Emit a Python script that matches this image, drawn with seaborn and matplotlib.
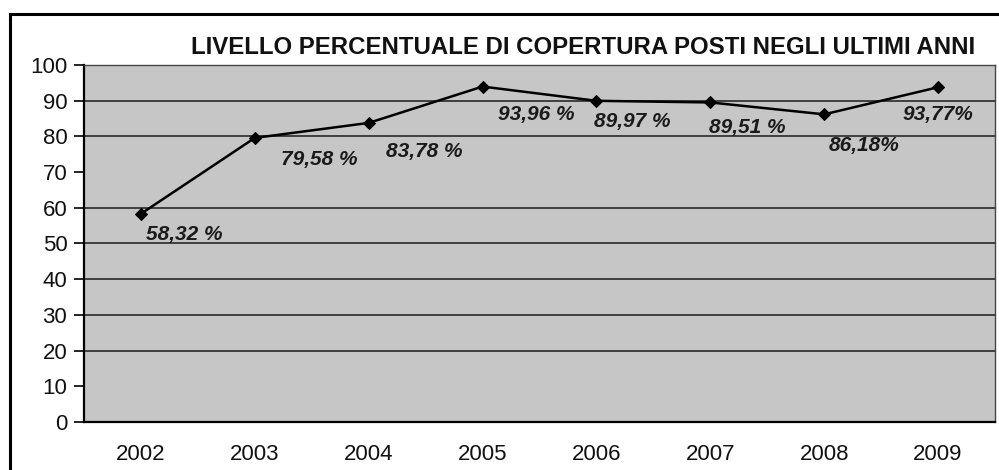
import matplotlib
matplotlib.use("Agg")
import matplotlib.pyplot as plt
import matplotlib.patches as mpatches
import seaborn as sns
import pandas as pd

# -----------------------------
# Data
# -----------------------------
years = ["2002", "2003", "2004", "2005", "2006", "2007", "2008", "2009"]
coverage = [58.32, 79.58, 83.78, 93.96, 89.97, 89.51, 86.18, 93.77]
point_labels = ["58,32 %", "79,58 %", "83,78 %", "93,96 %",
                "89,97 %", "89,51 %", "86,18%", "93,77%"]
# label offsets from each point, in pixels (right, down)
label_offsets = [(43, -21), (64, -22), (56, -29), (54, -28),
                 (36, -21), (37, -25), (40, -31), (0, -27)]
y_ticks = list(range(0, 101, 10))
grid_levels = [20, 30, 40, 50, 60, 80, 90]

title = "LIVELLO PERCENTUALE DI COPERTURA POSTI NEGLI ULTIMI ANNI"

# -----------------------------
# Theme
# -----------------------------
sns.set_theme(style="white")
plt.rcParams["font.family"] = ["Liberation Sans", "DejaVu Sans"]

df = pd.DataFrame({"Anno": years, "Copertura": coverage})

fig = plt.figure(figsize=(9.99, 4.70), dpi=100)
ax = fig.add_axes([84 / 999, 48 / 470, 911 / 999, 357 / 470])
ax.set_facecolor("#c6c6c6")

for lvl in grid_levels:
    ax.axhline(lvl, color="#1a1a1a", linewidth=1.1, zorder=1)

sns.lineplot(data=df, x="Anno", y="Copertura", ax=ax, color="black",
             linewidth=1.8, marker="D", markersize=6.5, markeredgecolor="black",
             zorder=3, sort=False)

for i, (val, lab, off) in enumerate(zip(coverage, point_labels, label_offsets)):
    ax.annotate(lab, (i, val), xytext=off, textcoords="offset pixels",
                ha="center", va="center", fontsize=15, fontweight="bold",
                fontstyle="italic", color="#1a1a1a", zorder=4)

ax.set_xlim(-0.5, len(years) - 0.5)
ax.set_ylim(0, 100)
ax.set_yticks(y_ticks)
ax.set_yticklabels([str(t) for t in y_ticks], fontsize=16, color="#111111")
ax.set_xticks(range(len(years)))
ax.set_xticklabels(years, fontsize=16, color="#111111")
ax.set_xticks([i - 0.5 for i in range(len(years) + 1)], minor=True)
ax.tick_params(axis="x", which="major", length=0, pad=16)
ax.tick_params(axis="x", which="minor", length=6, width=1.2, color="black", direction="out")
ax.tick_params(axis="y", length=7, width=1.2, color="black", direction="out", pad=5, left=True)
ax.set_xlabel("")
ax.set_ylabel("")

for side in ["left", "bottom"]:
    ax.spines[side].set_color("black")
    ax.spines[side].set_linewidth(1.6)
for side in ["top", "right"]:
    ax.spines[side].set_color("#444444")
    ax.spines[side].set_linewidth(1.0)

fig.text(0.584, 1 - 47 / 470, title, ha="center", va="center",
         fontsize=17.3, fontweight="bold", color="#111111")

# outer chart frame
frame = mpatches.Rectangle((10 / 999, -0.05), 1.0, 1.05 - 14 / 470,
                           transform=fig.transFigure, fill=False,
                           edgecolor="black", linewidth=2.2, zorder=0)
fig.patches.append(frame)

fig.savefig("out.png", dpi=100, facecolor="white")
